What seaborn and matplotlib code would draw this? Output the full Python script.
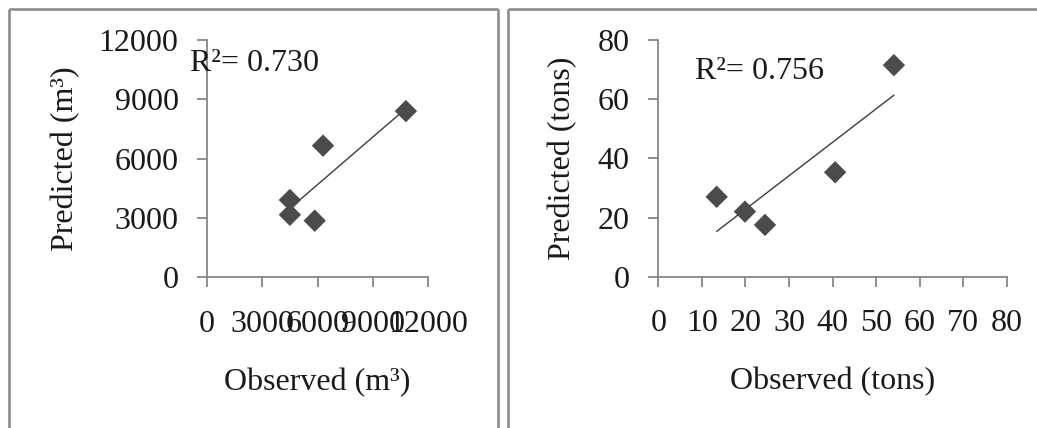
import numpy as np
import pandas as pd
import matplotlib
matplotlib.use("Agg")
import matplotlib.pyplot as plt
from matplotlib.lines import Line2D
import seaborn as sns

# ---- data ----
vol_observed = [4500, 4500, 5850, 6300, 10800]
vol_predicted = [3900, 3150, 2850, 6650, 8400]
vol_r2_label = "R\u00b2= 0.730"
vol_ticks = [0, 3000, 6000, 9000, 12000]

mass_observed = [13.4, 19.9, 24.5, 40.6, 54.1]
mass_predicted = [27.0, 22.0, 17.5, 35.3, 71.5]
mass_r2_label = "R\u00b2= 0.756"
mass_ticks = [0, 10, 20, 30, 40, 50, 60, 70, 80]
mass_yticks = [0, 20, 40, 60, 80]

sns.set_style("white")
plt.rcParams["font.family"] = ["Liberation Serif", "DejaVu Serif"]

W, H = 1037, 428
fig = plt.figure(figsize=(W / 100, H / 100), dpi=100)
fig.patch.set_facecolor("white")

def frac_box(x0, x1, ytop, ybot):
    return [x0 / W, (H - ybot) / H, (x1 - x0) / W, (ybot - ytop) / H]

ax1 = fig.add_axes(frac_box(207, 428, 40, 277))
ax2 = fig.add_axes(frac_box(658.3, 1006.7, 40, 276.7))

axis_gray = "#878787"
mark_col = "#4b4b4b"
line_col = "#3c3c3c"
fs = 23

def style(ax, xt, yt, xlabel, ylabel, ylab_x):
    ax.set_facecolor("white")
    for s in ["top", "right"]:
        ax.spines[s].set_visible(False)
    for s in ["left", "bottom"]:
        ax.spines[s].set_color(axis_gray)
        ax.spines[s].set_linewidth(1.3)
    ax.set_xticks(xt)
    ax.set_yticks(yt)
    ax.set_xlim(xt[0], xt[-1])
    ax.set_ylim(yt[0], yt[-1])
    ax.tick_params(axis="both", which="major", bottom=True, left=True,
                   direction="out", length=7.5, width=1.3,
                   color=axis_gray, labelsize=fs, labelcolor="#1a1a1a")
    ax.tick_params(axis="x", pad=16)
    ax.tick_params(axis="y", pad=13)
    ax.set_xlabel(xlabel, fontsize=fs, color="#1a1a1a")
    ax.set_ylabel(ylabel, fontsize=fs, color="#1a1a1a")
    ax.xaxis.label.set_va("center")
    ax.yaxis.label.set_va("center")
    ax.xaxis.set_label_coords(0.5, -0.445)
    ax.yaxis.set_label_coords(ylab_x, 0.5)

df1 = pd.DataFrame({"obs": vol_observed, "pred": vol_predicted})
df2 = pd.DataFrame({"obs": mass_observed, "pred": mass_predicted})

for ax, df in [(ax1, df1), (ax2, df2)]:
    sns.regplot(data=df, x="obs", y="pred", ax=ax, ci=None, truncate=True,
                marker="D",
                scatter_kws={"s": 130, "color": mark_col, "alpha": 1,
                             "edgecolors": "none", "zorder": 3},
                line_kws={"color": line_col, "linewidth": 1.0, "zorder": 2})

style(ax1, vol_ticks, vol_ticks, "Observed (m\u00b3)", "Predicted (m\u00b3)", -0.64)
style(ax2, mass_ticks, mass_yticks, "Observed (tons)", "Predicted (tons)", -0.2735)

ax1.text(-950, 10800, vol_r2_label, fontsize=fs, color="#1a1a1a",
         ha="left", va="center", clip_on=False, zorder=5)
ax2.text(8.4, 69.5, mass_r2_label, fontsize=fs, color="#1a1a1a",
         ha="left", va="center", clip_on=False, zorder=5)

# panel frames
border = "#8c8c8c"
def fline(xs, ys):
    fig.add_artist(Line2D([x / W for x in xs], [(H - y) / H for y in ys],
                          transform=fig.transFigure, color=border,
                          linewidth=1.9, solid_capstyle="butt"))

fline([8.5, 8.5], [9, H])
fline([8.5, 497.5], [9, 9])
fline([497.5, 497.5], [9, H])
fline([507.5, 507.5], [9, H])
fline([507.5, W], [9, 9])

fig.savefig("out.png", dpi=100, facecolor="white")
